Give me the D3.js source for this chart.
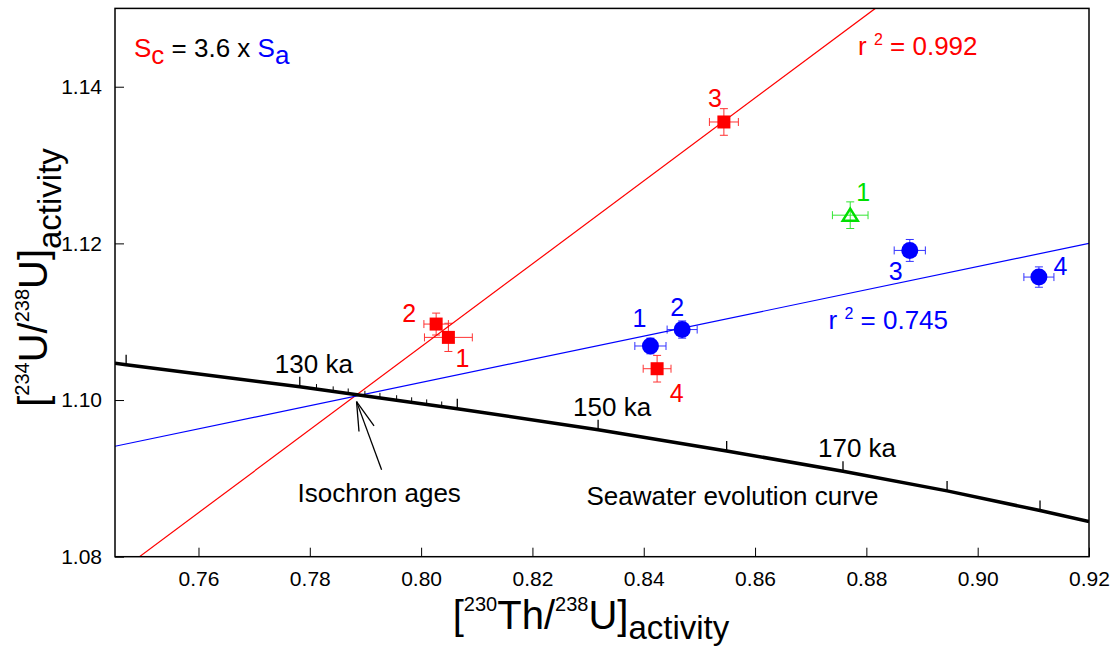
<!DOCTYPE html>
<html><head><meta charset="utf-8">
<script src="https://cdn.jsdelivr.net/npm/d3@7"></script>
<style>
body{margin:0;background:#fff}
text{font-family:"Liberation Sans",Arial,Helvetica,sans-serif}
</style>
</head><body>
<svg id="chart" width="1111" height="648"></svg>
<script>
// ---------- data ----------
const xTicks = [0.76,0.78,0.80,0.82,0.84,0.86,0.88,0.90,0.92];
const yTicks = [1.08,1.10,1.12,1.14];

// coral (red squares)
const coralLabels = ["1","2","3","4"];
const coralX    = [0.8049,0.8027,0.8544,0.8424];
const coralY    = [1.1080,1.1097,1.1355,1.1040];
const coralXErr = [0.0043,0.0022,0.0026,0.0025];
const coralYErr = [0.0018,0.0014,0.0017,0.0017];

// aragonite (blue circles)
const aragLabels = ["1","2","3","4"];
const aragX    = [0.8412,0.8469,0.8878,0.9110];
const aragY    = [1.1069,1.1090,1.1191,1.1157];
const aragXErr = [0.0028,0.0027,0.0028,0.0027];
const aragYErr = [0.0010,0.0011,0.0014,0.0013];

// other sample (green open triangle)
const otherLabels = ["1"];
const otherX    = [0.8771];
const otherY    = [1.1236];
const otherXErr = [0.0032];
const otherYErr = [0.0017];

// isochron regression lines (end points)
const redLineX  = [0.7494, 0.8816];
const redLineY  = [1.0800, 1.1500];
const blueLineX = [0.745, 0.920];
const blueLineY = [1.0941, 1.1200];
const redR2  = "0.992";
const blueR2 = "0.745";

// seawater evolution curve
const curveX = [0.745, 0.7470, 0.7782, 0.8065, 0.8318, 0.8549, 0.8758, 0.8945, 0.9112, 0.920];
const curveY = [1.1047,1.1045,1.1017,1.0989,1.0962,1.0935,1.0909,1.0884,1.0859,1.0845];
const majorAges  = [120,130,140,150,160,170,180,190];
const majorAgeX  = [0.7470,0.7782,0.8065,0.8318,0.8549,0.8758,0.8945,0.9112];
const minorAgeX  = [0.7812,0.7842,0.7869,0.7899,0.7926,0.7956,0.7983,0.8010,0.8037];
const labelledAges = [130,150,170];

// arrow (tail -> tip)
const arrowX = [0.7929, 0.7884];
const arrowY = [1.0911, 1.0998];

// ---------- layout / style ----------
const W = 1111, H = 648;
const m = {left:115, right:1089, top:8.4, bottom:556.7};
const RED = "#ff0000", BLUE = "#0000ff", GREEN = "#00e000";

const svg = d3.select("#chart");
const x = d3.scaleLinear().domain([0.745,0.92]).range([m.left,m.right]);
const y = d3.scaleLinear().domain([1.08,1.15]).range([m.bottom,m.top]);

// axes
const xAxis = d3.axisBottom(x).tickValues(xTicks).tickFormat(d3.format(".2f")).tickSize(-9).tickPadding(14);
const yAxis = d3.axisLeft(y).tickValues(yTicks).tickFormat(d3.format(".2f")).tickSize(-9).tickPadding(13);
const gx = svg.append("g").attr("transform",`translate(0,${m.bottom})`).call(xAxis);
const gy = svg.append("g").attr("transform",`translate(${m.left},0)`).call(yAxis);
[gx,gy].forEach(g=>{
  g.select(".domain").remove();
  g.selectAll(".tick line").attr("stroke","#000").attr("stroke-width",1);
  g.selectAll(".tick text").attr("font-size",21).attr("fill","#000")
   .attr("font-family",'"Liberation Sans",Arial,sans-serif');
});

// clip
svg.append("clipPath").attr("id","clip").append("rect")
  .attr("x",m.left).attr("y",m.top).attr("width",m.right-m.left).attr("height",m.bottom-m.top);
const plot = svg.append("g").attr("clip-path","url(#clip)");

// regression lines
const line = d3.line().x(d=>x(d[0])).y(d=>y(d[1]));
plot.append("path").datum(d3.zip(redLineX,redLineY)).attr("d",line)
  .attr("fill","none").attr("stroke",RED).attr("stroke-width",1.2);
plot.append("path").datum(d3.zip(blueLineX,blueLineY)).attr("d",line)
  .attr("fill","none").attr("stroke",BLUE).attr("stroke-width",1.2);

// seawater curve
plot.append("path").datum(d3.zip(curveX,curveY)).attr("d",line)
  .attr("fill","none").attr("stroke","#000").attr("stroke-width",3.5).attr("stroke-linejoin","round");
function curveAt(xv){
  for(let i=0;i<curveX.length-1;i++){
    if(xv>=curveX[i] && xv<=curveX[i+1]){
      const t=(xv-curveX[i])/(curveX[i+1]-curveX[i]);
      return curveY[i]+t*(curveY[i+1]-curveY[i]);
    }
  }
  return curveY[curveY.length-1];
}
majorAgeX.forEach(xv=>{
  const px=x(xv), py=y(curveAt(xv));
  plot.append("line").attr("x1",px).attr("x2",px).attr("y1",py).attr("y2",py-10)
    .attr("stroke","#000").attr("stroke-width",1.3);
});
minorAgeX.forEach(xv=>{
  const px=x(xv), py=y(curveAt(xv));
  plot.append("line").attr("x1",px).attr("x2",px).attr("y1",py).attr("y2",py-5)
    .attr("stroke","#000").attr("stroke-width",1);
});
labelledAges.forEach(a=>{
  const xv = majorAgeX[majorAges.indexOf(a)];
  svg.append("text").attr("x",x(xv)-25).attr("y",y(curveAt(xv))-14)
    .attr("font-size",26).attr("fill","#000").text(a+" ka");
});

// error bars + markers
function errorBars(X,Y,XE,YE,color){
  const g = svg.append("g").attr("stroke",color).attr("stroke-width",1).attr("opacity",0.8);
  const cap=4;
  X.forEach((xv,i)=>{
    const px=x(xv), py=y(Y[i]);
    const x0=x(xv-XE[i]), x1=x(xv+XE[i]), y0=y(Y[i]-YE[i]), y1=y(Y[i]+YE[i]);
    g.append("line").attr("x1",x0).attr("x2",x1).attr("y1",py).attr("y2",py);
    g.append("line").attr("x1",x0).attr("x2",x0).attr("y1",py-cap).attr("y2",py+cap);
    g.append("line").attr("x1",x1).attr("x2",x1).attr("y1",py-cap).attr("y2",py+cap);
    g.append("line").attr("x1",px).attr("x2",px).attr("y1",y0).attr("y2",y1);
    g.append("line").attr("x1",px-cap).attr("x2",px+cap).attr("y1",y0).attr("y2",y0);
    g.append("line").attr("x1",px-cap).attr("x2",px+cap).attr("y1",y1).attr("y2",y1);
  });
}
errorBars(coralX,coralY,coralXErr,coralYErr,RED);
errorBars(aragX,aragY,aragXErr,aragYErr,BLUE);
errorBars(otherX,otherY,otherXErr,otherYErr,GREEN);

svg.append("g").selectAll("rect").data(d3.range(coralX.length)).join("rect")
  .attr("x",i=>x(coralX[i])-6.5).attr("y",i=>y(coralY[i])-6.5)
  .attr("width",13).attr("height",13).attr("fill",RED);
svg.append("g").selectAll("circle").data(d3.range(aragX.length)).join("circle")
  .attr("cx",i=>x(aragX[i])).attr("cy",i=>y(aragY[i])).attr("r",8.5).attr("fill",BLUE);
svg.append("g").selectAll("path").data(d3.range(otherX.length)).join("path")
  .attr("transform",i=>`translate(${x(otherX[i])},${y(otherY[i])})`)
  .attr("d","M0,-6.5L7.5,5.5L-7.5,5.5Z").attr("fill","none").attr("stroke",GREEN).attr("stroke-width",2.5);

// point labels (pixel offsets)
const coralOff = [[14,30],[-27,-2],[-9,-15],[19.5,33]];
const aragOff  = [[-11,-19],[-5,-14],[-14,30],[21.5,-2]];
const otherOff = [[13,-14]];
function labels(X,Y,L,off,color){
  X.forEach((xv,i)=>{
    svg.append("text").attr("x",x(xv)+off[i][0]).attr("y",y(Y[i])+off[i][1])
      .attr("text-anchor","middle").attr("font-size",25).attr("fill",color).text(L[i]);
  });
}
labels(coralX,coralY,coralLabels,coralOff,RED);
labels(aragX,aragY,aragLabels,aragOff,BLUE);
labels(otherX,otherY,otherLabels,otherOff,GREEN);

// rich text helper
function rich(sel,px,py,parts,anchor){
  const t = sel.append("text").attr("x",px).attr("y",py)
    .attr("text-anchor",anchor||"start").style("white-space","pre");
  let cur=0;
  parts.forEach(p=>{
    const s=p.shift||0;
    t.append("tspan").attr("dy",s-cur).attr("font-size",p.size).attr("fill",p.color||"#000").text(p.t);
    cur=s;
  });
  return t;
}

// r^2 labels
rich(svg, x(0.8785), y(1.1440), [
  {t:"r ",size:26,color:RED},{t:"2",size:16,color:RED,shift:-10},{t:" = "+redR2,size:26,color:RED}]);
rich(svg, x(0.8732), y(1.1091), [
  {t:"r ",size:26,color:BLUE},{t:"2",size:16,color:BLUE,shift:-10},{t:" = "+blueR2,size:26,color:BLUE}]);

// legend Sc = 3.6 x Sa
rich(svg, 134, 56.5, [
  {t:"S",size:26,color:RED},{t:"c",size:26,color:RED,shift:7.5},
  {t:" = 3.6 x ",size:26,color:"#000"},
  {t:"S",size:26,color:BLUE},{t:"a",size:26,color:BLUE,shift:7.5}]);

// annotations
svg.append("text").attr("x",x(0.7778)).attr("y",y(1.0870)).attr("font-size",26).text("Isochron ages");
svg.append("text").attr("x",x(0.8297)).attr("y",y(1.0866)).attr("font-size",26).text("Seawater evolution curve");

// arrow
(function(){
  const tx=x(arrowX[0]), ty=y(arrowY[0]), hx=x(arrowX[1]), hy=y(arrowY[1]);
  const g=svg.append("g").attr("stroke","#000").attr("stroke-width",1.3).attr("fill","none");
  g.append("line").attr("x1",tx).attr("y1",ty).attr("x2",hx).attr("y2",hy);
  const ang=Math.atan2(ty-hy,tx-hx), L=30, a=15.5*Math.PI/180;
  [ang-a,ang+a].forEach(t=>{
    g.append("line").attr("x1",hx).attr("y1",hy).attr("x2",hx+L*Math.cos(t)).attr("y2",hy+L*Math.sin(t));
  });
})();

// frame
svg.append("rect").attr("x",m.left).attr("y",m.top).attr("width",m.right-m.left).attr("height",m.bottom-m.top)
  .attr("fill","none").attr("stroke","#000").attr("stroke-width",1.5);

// axis titles
const yl = svg.append("g").attr("transform","translate(47,277.5) rotate(-90)");
rich(yl,0,0,[
  {t:"[",size:40},{t:"234",size:20,shift:-18},{t:"U/",size:40},{t:"238",size:20,shift:-18},
  {t:"U]",size:40},{t:"activity",size:33,shift:14}],"middle");
rich(svg,591,629,[
  {t:"[",size:40},{t:"230",size:20,shift:-18},{t:"Th/",size:40},{t:"238",size:20,shift:-18},
  {t:"U]",size:40},{t:"activity",size:33,shift:10}],"middle");
</script>
</body></html>
